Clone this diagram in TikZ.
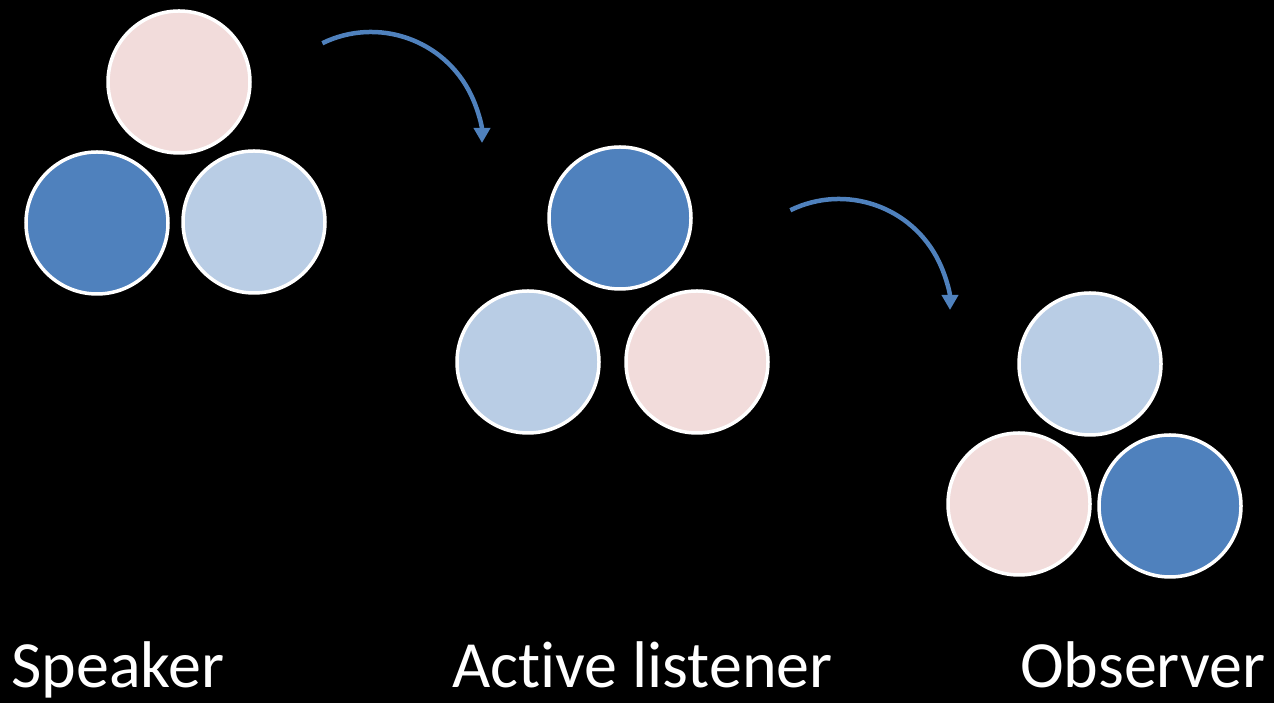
\documentclass[tikz,border=0pt]{standalone}
\usepackage{fontspec}
\setmainfont[Ligatures={NoCommon}]{Carlito}
\usetikzlibrary{arrows.meta}
\definecolor{pinkc}{HTML}{F2DCDB}
\definecolor{darkb}{HTML}{4F81BD}
\definecolor{lightb}{HTML}{B9CDE5}
\tikzset{
  ball/.style={circle, draw=white, line width=3.5pt, minimum size=142pt, inner sep=0pt},
  flow/.style={draw=darkb, line width=4.5pt, -{Triangle[width=16pt,length=15pt]}},
  lbl/.style={text=white, font=\fontsize{66}{79}\selectfont, anchor=base west, inner sep=0pt}
}
\begin{document}
\begin{tikzpicture}[x=1pt,y=1pt]
\fill[black] (0,0) rectangle (1274,703);
\useasboundingbox (0,0) rectangle (1274,703);
% Speaker group
\node[ball, fill=pinkc] (s1) at (179,621) {};
\node[ball, fill=darkb] (s2) at (97,480) {};
\node[ball, fill=lightb] (s3) at (254,481) {};
% Active listener group
\node[ball, fill=darkb] (a1) at (620,485) {};
\node[ball, fill=lightb] (a2) at (528,341) {};
\node[ball, fill=pinkc] (a3) at (697,341) {};
% Observer group
\node[ball, fill=lightb] (o1) at (1090,339) {};
\node[ball, fill=pinkc] (o2) at (1019,199) {};
\node[ball, fill=darkb] (o3) at (1170,197) {};
% arrows
\coordinate (c1) at (371,560);
\coordinate (c2) at (839,393);
\draw[flow] ([shift={(116:111)}]c1) arc[start angle=116, end angle=0, radius=111];
\draw[flow] ([shift={(116:111)}]c2) arc[start angle=116, end angle=0, radius=111];
% labels
\node[lbl] (t1) at (11,15) {Speaker};
\node[lbl] (t2) at (452,15) {Active listener};
\node[lbl] (t3) at (1020,15) {Observer};
\end{tikzpicture}
\end{document}
